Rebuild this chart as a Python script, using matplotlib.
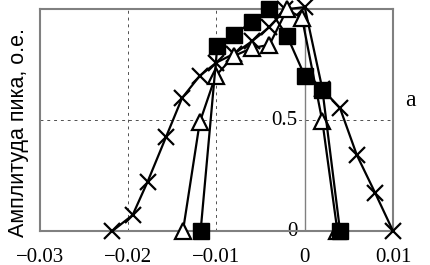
import matplotlib
matplotlib.use("Agg")
import matplotlib.pyplot as plt

# crosses
x_cross = [-0.0218, -0.0195, -0.0178, -0.0157, -0.0139, -0.0119, -0.0100, -0.0080,
           -0.0060, -0.0040, -0.0022, 0.0, 0.0020, 0.0040, 0.0059, 0.0080, 0.0100]
y_cross = [0.0, 0.072, 0.223, 0.426, 0.60, 0.70, 0.76, 0.80,
           0.855, 0.92, 1.0, 1.01, 0.64, 0.554, 0.343, 0.17, 0.0]

# triangles
x_tri = [-0.0138, -0.0119, -0.0101, -0.0080, -0.0060, -0.0040, -0.0020, -0.0003, 0.0020, 0.0037]
y_tri = [0.0, 0.49, 0.70, 0.79, 0.825, 0.84, 1.0, 0.96, 0.494, 0.0]

# squares
x_sq = [-0.0118, -0.0099, -0.0080, -0.0060, -0.0040, -0.0020, 0.0, 0.0020, 0.0040]
y_sq = [0.0, 0.836, 0.885, 0.944, 1.0, 0.88, 0.70, 0.637, 0.0]

xticks = [-0.03, -0.02, -0.01, 0, 0.01]
xticklabels = ['\u22120.03', '\u22120.02', '\u22120.01', '0', '0.01']
yticks = [0.5, 0]
yticklabels = ['0.5', '0']

serif = 'Liberation Serif'
gray = '#808080'

fig = plt.figure(figsize=(4.31, 2.65), dpi=100)
ax = fig.add_axes([0.0928, 0.1283, 0.8190, 0.8365])

ax.set_xlim(-0.03, 0.01)
ax.set_ylim(0, 1.0)

for s in ax.spines.values():
    s.set_color(gray)
    s.set_linewidth(1.5)

# grid
for gx in [-0.02, -0.01]:
    ax.axvline(gx, color='#505050', lw=0.7, ls=(0, (3, 4)), zorder=1)
ax.axhline(0.5, color='#505050', lw=0.7, ls=(0, (3, 4)), zorder=1)
ax.axvline(0, color=gray, lw=1.0, zorder=1)

ax.plot(x_cross, y_cross, color='black', lw=1.6, marker='x', ms=11, mew=1.6,
        clip_on=False, zorder=3)
ax.plot(x_tri, y_tri, color='black', lw=1.6, marker='^', ms=11, mew=1.6,
        mfc='white', mec='black', clip_on=False, zorder=4)
ax.plot(x_sq, y_sq, color='black', lw=1.6, marker='s', ms=11,
        mfc='black', mec='black', clip_on=False, zorder=5)

ax.set_xticks(xticks)
ax.set_xticklabels(xticklabels, fontfamily=serif, fontsize=15)
ax.tick_params(axis='x', length=0, pad=12)
ax.set_yticks([])

for v, lab in zip(yticks, yticklabels):
    ax.text(-0.0008, v, lab, ha='right', va='center', fontfamily=serif, fontsize=15,
            bbox=dict(facecolor='white', edgecolor='none', pad=0.5), zorder=2)

fig.text(0.042, 0.50, 'Амплитуда пика, о.е.', rotation=90, ha='center', va='center',
         fontfamily='Liberation Sans', fontsize=15.5)
fig.text(0.952, 0.62, 'a', ha='center', va='center', fontfamily=serif, fontsize=17)

fig.savefig('out.png', dpi=100)
